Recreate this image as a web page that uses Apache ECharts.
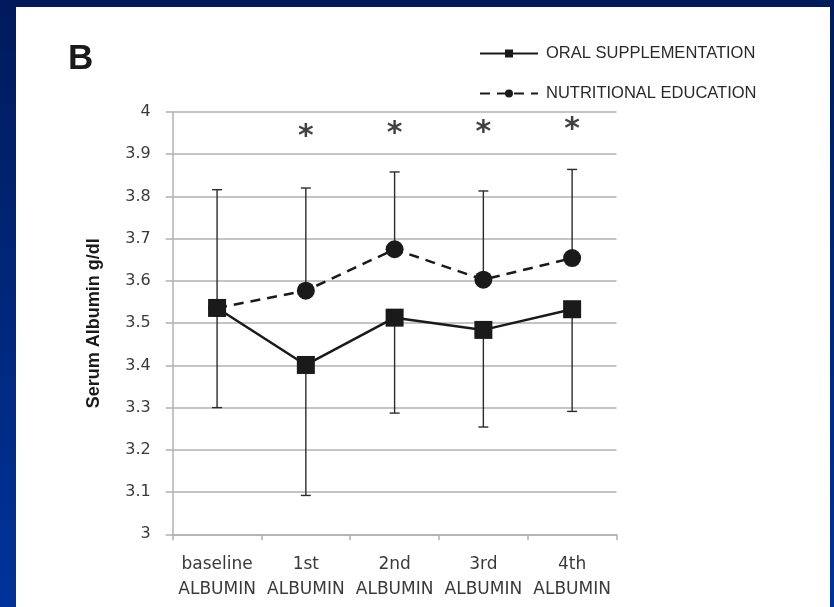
<!DOCTYPE html>
<html>
<head>
<meta charset="utf-8">
<script src="https://cdn.jsdelivr.net/npm/echarts@6/dist/echarts.min.js"></script>
<style>
html,body{margin:0;padding:0;background:#00246f;}
#chart{width:834px;height:607px;}
</style>
</head>
<body>
<div id="chart"></div>
<script>
// ---- data ----
var categories = ['baseline', '1st', '2nd', '3rd', '4th'];
var categorySuffix = 'ALBUMIN';
var oralMean = [3.536, 3.401, 3.513, 3.484, 3.533];
var oralLower = [3.300, 3.092, 3.287, 3.254, 3.291];
var eduMean = [3.536, 3.577, 3.675, 3.603, 3.654];
var eduUpper = [3.816, 3.820, 3.858, 3.813, 3.864];
var asteriskLevel = [null, 3.954, 3.962, 3.963, 3.970];
var seriesNames = ['ORAL SUPPLEMENTATION', 'NUTRITIONAL EDUCATION'];
var yTitle = 'Serum Albumin g/dl';
var panelLetter = 'B';

var chart = echarts.init(document.getElementById('chart'), null, {renderer: 'canvas'});

var tickLabels = categories.map(function (c) { return c + '\n' + categorySuffix; });

function errBarData(mean, bound) {
  return mean.map(function (m, i) { return [i, m, bound[i]]; });
}
function renderErr(params, api) {
  var p0 = api.coord([api.value(0), api.value(1)]);
  var p1 = api.coord([api.value(0), api.value(2)]);
  var half = 5;
  var st = {stroke: '#2b2b2b', lineWidth: 1.4};
  return {
    type: 'group',
    children: [
      {type: 'line', shape: {x1: p0[0], y1: p0[1], x2: p1[0], y2: p1[1]}, style: st},
      {type: 'line', shape: {x1: p1[0] - half, y1: p1[1], x2: p1[0] + half, y2: p1[1]}, style: st}
    ]
  };
}
var asteriskData = [];
asteriskLevel.forEach(function (v, i) { if (v !== null) asteriskData.push([i, v]); });

var option = {
  animation: false,
  backgroundColor: {
    type: 'linear', x: 0, y: 0, x2: 0, y2: 1,
    colorStops: [{offset: 0, color: '#001a5c'}, {offset: 1, color: '#00339a'}]
  },
  graphic: [{
    type: 'rect', shape: {x: 16, y: 7, width: 814, height: 600},
    style: {fill: '#ffffff'}, z: -10, silent: true
  }],
  title: {
    text: panelLetter, left: 63, top: 37,
    textStyle: {fontFamily: 'Liberation Sans', fontSize: 35, fontWeight: 'bold', color: '#1a1a1a'}
  },
  legend: {
    orient: 'vertical', left: 474, top: 40, itemWidth: 58, itemHeight: 10, itemGap: 23,
    data: seriesNames,
    textStyle: {fontFamily: 'Liberation Sans', fontSize: 16.5, color: '#2a2a2a', padding: [0, 0, 0, 3]}
  },
  grid: {left: 172.7, right: 217.5, top: 112, bottom: 72.7, containLabel: false},
  xAxis: {
    type: 'category', data: tickLabels, boundaryGap: true,
    axisLine: {lineStyle: {color: '#b0b0b0', width: 1.5}},
    axisTick: {show: true, length: 6, lineStyle: {color: '#b0b0b0', width: 1.5}},
    axisLabel: {interval: 0, fontFamily: 'DejaVu Sans', fontSize: 17, color: '#3a3a3a', lineHeight: 25, margin: 18}
  },
  yAxis: {
    type: 'value', min: 3, max: 4, interval: 0.1,
    name: yTitle, nameLocation: 'middle', nameGap: 70,
    nameTextStyle: {fontFamily: 'Liberation Sans', fontSize: 18, fontWeight: 'bold', color: '#1a1a1a'},
    axisLine: {show: true, lineStyle: {color: '#b0b0b0', width: 1.5}},
    axisTick: {show: true, length: 7, lineStyle: {color: '#b0b0b0', width: 1.5}},
    splitLine: {lineStyle: {color: '#b0b0b0', width: 1.5}},
    axisLabel: {fontFamily: 'DejaVu Sans', fontSize: 16, color: '#3a3a3a', margin: 22}
  },
  series: [
    {
      name: seriesNames[1], type: 'line', data: eduMean, z: 3,
      symbol: 'circle', symbolSize: 18,
      lineStyle: {color: '#1a1a1a', width: 2.5, type: [10, 7]},
      itemStyle: {color: '#1a1a1a'}
    },
    {
      name: seriesNames[0], type: 'line', data: oralMean, z: 4,
      symbol: 'rect', symbolSize: 18,
      lineStyle: {color: '#1a1a1a', width: 2.5},
      itemStyle: {color: '#1a1a1a'}
    },
    {
      type: 'custom', name: 'eduErr', data: errBarData(eduMean, eduUpper), z: 2,
      renderItem: renderErr, encode: {x: 0, y: [1, 2]}
    },
    {
      type: 'custom', name: 'oralErr', data: errBarData(oralMean, oralLower), z: 2,
      renderItem: renderErr, encode: {x: 0, y: [1, 2]}
    },
    {
      type: 'scatter', name: 'sig', data: asteriskData, symbolSize: 1, z: 5,
      itemStyle: {color: 'transparent'},
      label: {show: true, position: 'inside', formatter: '*', fontFamily: 'DejaVu Sans',
        fontSize: 30, fontWeight: 'bold', color: '#111', offset: [0, 6]}
    }
  ]
};
chart.setOption(option);
</script>
</body>
</html>
